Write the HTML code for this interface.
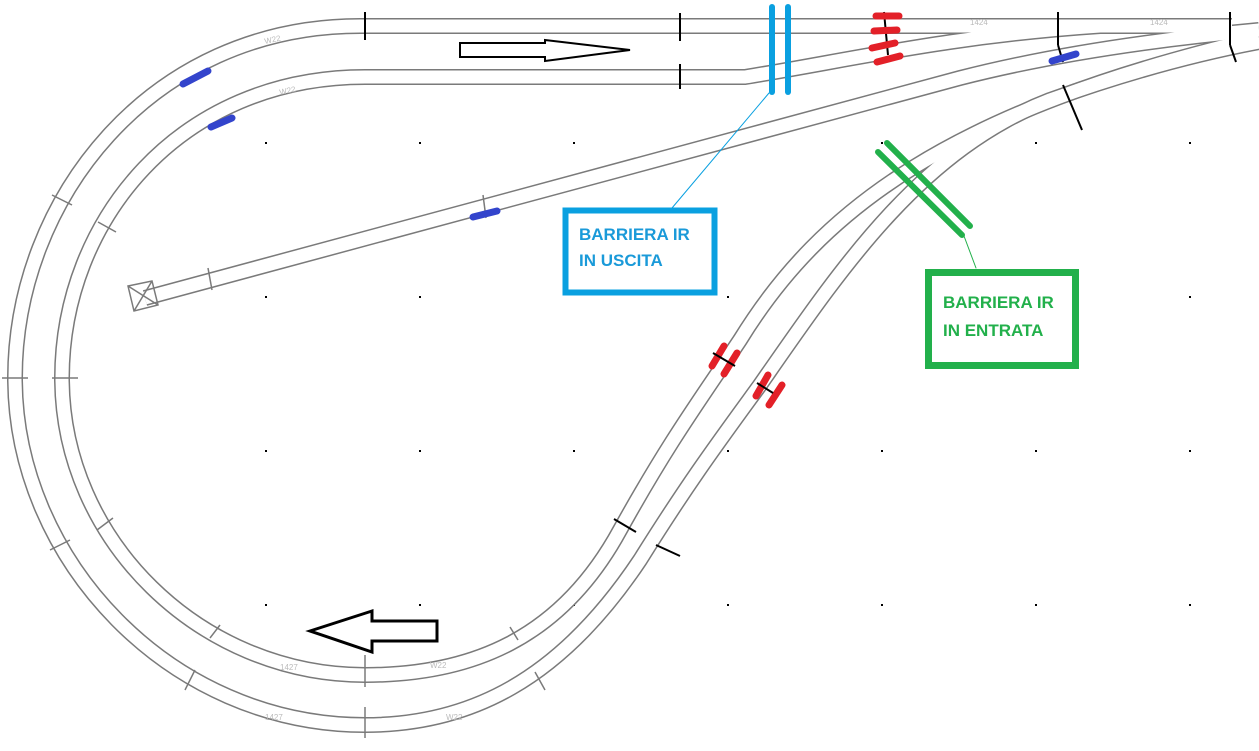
<!DOCTYPE html>
<html><head><meta charset="utf-8"><style>
html,body{margin:0;padding:0;background:#fff;}
svg{display:block;}
.t{font-family:"Liberation Sans",sans-serif;font-weight:bold;font-size:17px;}
</style></head><body>
<svg width="1259" height="751" viewBox="0 0 1259 751" xmlns="http://www.w3.org/2000/svg">
<rect width="1259" height="751" fill="#fff"/>
<g fill="#000">
<rect x="265" y="142" width="2" height="2"/><rect x="419" y="142" width="2" height="2"/><rect x="573" y="142" width="2" height="2"/><rect x="881" y="142" width="2" height="2"/><rect x="1035" y="142" width="2" height="2"/><rect x="1189" y="142" width="2" height="2"/>
<rect x="265" y="296" width="2" height="2"/><rect x="419" y="296" width="2" height="2"/><rect x="727" y="296" width="2" height="2"/><rect x="1189" y="296" width="2" height="2"/>
<rect x="265" y="450" width="2" height="2"/><rect x="419" y="450" width="2" height="2"/><rect x="573" y="450" width="2" height="2"/><rect x="727" y="450" width="2" height="2"/><rect x="881" y="450" width="2" height="2"/><rect x="1035" y="450" width="2" height="2"/><rect x="1189" y="450" width="2" height="2"/>
<rect x="111" y="604" width="2" height="2"/><rect x="265" y="604" width="2" height="2"/><rect x="419" y="604" width="2" height="2"/><rect x="573" y="604" width="2" height="2"/><rect x="727" y="604" width="2" height="2"/><rect x="881" y="604" width="2" height="2"/><rect x="1035" y="604" width="2" height="2"/><rect x="1189" y="604" width="2" height="2"/>
</g>
<g fill="none" stroke="#7a7a7a" stroke-width="16">
<path d="M1232 26 L360 26 C150 26 15 200 15 378 C15 560 170 725 365 725 C470 725 560 680 640 560 C690 480 720 440 760 385 C840 270 920 150 1050 100 C1120 75 1190 55 1259 42"/>
<path d="M365 77 C180 77 62 220 62 378 C62 540 200 675 365 675 C470 675 560 640 620 530 C670 440 700 400 740 340 C820 210 950 110 1259 38"/>
<path d="M145 298 L960 78 C1050 55 1150 40 1259 30"/>
<path d="M365 77 L745 77 C850 60 950 36 1100 26"/>
</g>
<g fill="none" stroke="#fff" stroke-width="13">
<path d="M1232 26 L360 26 C150 26 15 200 15 378 C15 560 170 725 365 725 C470 725 560 680 640 560 C690 480 720 440 760 385 C840 270 920 150 1050 100 C1120 75 1190 55 1259 42"/>
<path d="M365 77 C180 77 62 220 62 378 C62 540 200 675 365 675 C470 675 560 640 620 530 C670 440 700 400 740 340 C820 210 950 110 1259 38"/>
<path d="M145 298 L960 78 C1050 55 1150 40 1259 30"/>
<path d="M365 77 L745 77 C850 60 950 36 1100 26"/>
</g>
<g fill="none" stroke="#7a7a7a" stroke-width="1.5">
<path d="M128 286 L152 281 L158 305 L134 311 Z M128 286 L158 305 M152 281 L134 311"/>
</g>
<g stroke="#7a7a7a" stroke-width="1.5">
<line x1="2" y1="378" x2="28" y2="378"/><line x1="52" y1="378" x2="78" y2="378"/>
<line x1="365" y1="655" x2="365" y2="687"/><line x1="365" y1="707" x2="365" y2="738"/>
<line x1="208" y1="268" x2="212" y2="290"/><line x1="483" y1="195" x2="486" y2="218"/>
<line x1="52" y1="195" x2="72" y2="205"/><line x1="98" y1="222" x2="116" y2="232"/>
<line x1="50" y1="550" x2="70" y2="540"/><line x1="97" y1="530" x2="113" y2="518"/>
<line x1="185" y1="690" x2="195" y2="670"/><line x1="210" y1="638" x2="220" y2="625"/>
<line x1="510" y1="627" x2="518" y2="640"/><line x1="535" y1="672" x2="545" y2="690"/>
</g>
<g stroke="#000" stroke-width="2">
<line x1="365" y1="12" x2="365" y2="40"/><line x1="680" y1="13" x2="680" y2="41"/>
<line x1="680" y1="64" x2="680" y2="89"/>
<line x1="1058" y1="12" x2="1058" y2="45"/><line x1="1058" y1="45" x2="1063" y2="62"/>
<line x1="1230" y1="12" x2="1230" y2="45"/><line x1="1230" y1="45" x2="1236" y2="62"/>
<line x1="1063" y1="85" x2="1082" y2="130"/>
<line x1="614" y1="519" x2="636" y2="532"/><line x1="656" y1="545" x2="680" y2="556"/>
<line x1="884" y1="12" x2="888" y2="55"/>
</g>
<g stroke="#0aa0e0" stroke-linecap="round">
<line x1="772" y1="7" x2="772" y2="92" stroke-width="6"/>
<line x1="788" y1="7" x2="788" y2="92" stroke-width="6"/>
<line x1="769" y1="93" x2="672" y2="208" stroke-width="1"/>
</g>
<rect x="565.5" y="210.5" width="149" height="82" fill="none" stroke="#0aa0e0" stroke-width="6"/>
<text x="579" y="240" class="t" fill="#1a9ad9">BARRIERA IR</text>
<text x="579" y="266" class="t" fill="#1a9ad9">IN USCITA</text>
<g stroke="#22b04b" stroke-linecap="round">
<line x1="878" y1="152" x2="962" y2="235" stroke-width="6"/>
<line x1="887" y1="143" x2="970" y2="226" stroke-width="6"/>
<line x1="964" y1="236" x2="976" y2="268" stroke-width="1"/>
</g>
<rect x="928.5" y="272.5" width="147" height="93" fill="none" stroke="#22b04b" stroke-width="7"/>
<text x="943" y="308" class="t" fill="#22b04b">BARRIERA IR</text>
<text x="943" y="336" class="t" fill="#22b04b">IN ENTRATA</text>
<g stroke="#e32028" stroke-width="7" stroke-linecap="round">
<line x1="876" y1="16" x2="899" y2="16"/><line x1="874" y1="31" x2="897" y2="30"/>
<line x1="872" y1="48" x2="895" y2="43"/><line x1="877" y1="62" x2="900" y2="56"/>
<line x1="712" y1="366" x2="724" y2="346"/><line x1="724" y1="374" x2="737" y2="353"/>
<line x1="756" y1="396" x2="768" y2="375"/><line x1="769" y1="405" x2="782" y2="385"/>
</g>
<g stroke="#000" stroke-width="2"><line x1="713" y1="353" x2="735" y2="366"/><line x1="757" y1="383" x2="773" y2="393"/></g>
<g stroke="#3344cc" stroke-width="7" stroke-linecap="round">
<line x1="183" y1="84" x2="208" y2="71"/><line x1="211" y1="127" x2="232" y2="118"/>
<line x1="473" y1="217" x2="497" y2="211"/><line x1="1052" y1="61" x2="1076" y2="54"/>
</g>
<path d="M460 43 L545 43 L545 40 L630 50 L545 61 L545 57 L460 57 Z" fill="#fff" stroke="#000" stroke-width="2"/>
<path d="M310 631 L372 611 L372 621 L437 621 L437 641 L372 641 L372 652 Z" fill="#fff" stroke="#000" stroke-width="3"/>
<g font-family="Liberation Sans,sans-serif" font-size="8" fill="#bbb">
<text x="265" y="44" transform="rotate(-12 265 44)">W22</text>
<text x="280" y="95" transform="rotate(-12 280 95)">W22</text>
<text x="1150" y="25">1424</text><text x="970" y="25">1424</text>
<text x="280" y="670">1427</text><text x="430" y="668">W22</text>
<text x="265" y="720">1427</text><text x="446" y="720">W22</text>
</g>
</svg>
</body></html>
